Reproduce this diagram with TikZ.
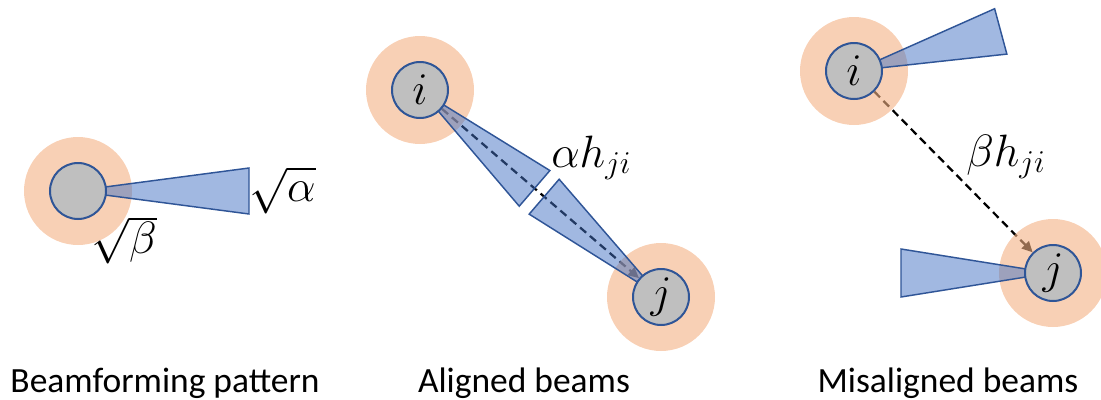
\RequirePackage{fix-cm}
\documentclass[tikz,border=0pt]{standalone}
\usepackage{fontspec}
\setmainfont{Carlito}
\usetikzlibrary{arrows.meta}
\definecolor{halo}{HTML}{F4B183}
\definecolor{beamc}{HTML}{4472C4}
\definecolor{edgec}{HTML}{2F5597}
\definecolor{nodegrey}{HTML}{BFBFBF}
\pgfdeclarelayer{arrowlayer}
\pgfdeclarelayer{halolayer}
\pgfdeclarelayer{beamlayer}
\pgfsetlayers{arrowlayer,halolayer,beamlayer,main}
\newcommand\drawbeam[5]{% x, y, angle, far distance, far half width
  \begin{scope}[shift={(#1,#2)}, rotate=#3]
    \path[beamshape] (27,-4) -- (#4,-#5) -- (#4,#5) -- (27,4) -- cycle;
  \end{scope}}
\begin{document}
\begin{tikzpicture}[x=0.75pt,y=-0.75pt,
  station/.style={circle, draw=edgec, line width=1.5pt, fill=nodegrey,
    minimum size=42pt, inner sep=0pt, font=\fontsize{34}{34}\selectfont},
  haloc/.style={fill=halo, fill opacity=0.6},
  beamshape/.style={draw=edgec, line width=1.1pt, fill=beamc, fill opacity=0.5},
  link/.style={dash pattern=on 6pt off 3.75pt, line width=1.7pt,
    -{Triangle[length=8pt,width=7.5pt]}},
  mathlabel/.style={inner sep=0pt, font=\fontsize{34}{38}\selectfont},
  caption/.style={inner sep=0pt, font=\fontsize{26.6}{30}\selectfont}]
\useasboundingbox (0,0) rectangle (1101,400);

% stations
\node[station] (b)  at (78,191) {};
\node[station] (i1) at (420,90) {$i$};
\node[station] (j1) at (661,297) {$j$};
\node[station] (i2) at (854,71) {$i$};
\node[station] (j2) at (1053,273) {$j$};

% links
\begin{pgfonlayer}{arrowlayer}
  \draw[link] (i1) -- (j1);
  \draw[link] (i2) -- (j2);
\end{pgfonlayer}

% halos
\begin{pgfonlayer}{halolayer}
  \fill[haloc] (b)  circle[radius=54];
  \fill[haloc] (i1) circle[radius=54];
  \fill[haloc] (j1) circle[radius=54];
  \fill[haloc] (i2) circle[radius=54];
  \fill[haloc] (j2) circle[radius=54];
\end{pgfonlayer}

% beams
\begin{pgfonlayer}{beamlayer}
  \drawbeam{78}{191}{0}{171}{23}
  \drawbeam{420}{90}{-40.65}{151}{23.5}
  \drawbeam{661}{297}{139.35}{154}{23}
  \drawbeam{854}{71}{15.1}{152}{23.5}
  \drawbeam{1053}{273}{180}{152}{24}
\end{pgfonlayer}

% labels
\node[mathlabel, anchor=west] (la) at (249,190) {$\sqrt{\alpha}$};
\node[mathlabel, anchor=west] (lb) at (91,240) {$\sqrt{\beta}$};
\node[mathlabel, anchor=base west] (lah) at (551,167) {$\alpha h_{ji}$};
\node[mathlabel, anchor=base west] (lbh) at (966,166) {$\beta h_{ji}$};

% captions
\node[caption, anchor=base] (c1) at (165,392) {Beamforming pattern};
\node[caption, anchor=base] (c2) at (524,392) {Aligned beams};
\node[caption, anchor=base] (c3) at (948,392) {Misaligned beams};
\end{tikzpicture}
\end{document}
